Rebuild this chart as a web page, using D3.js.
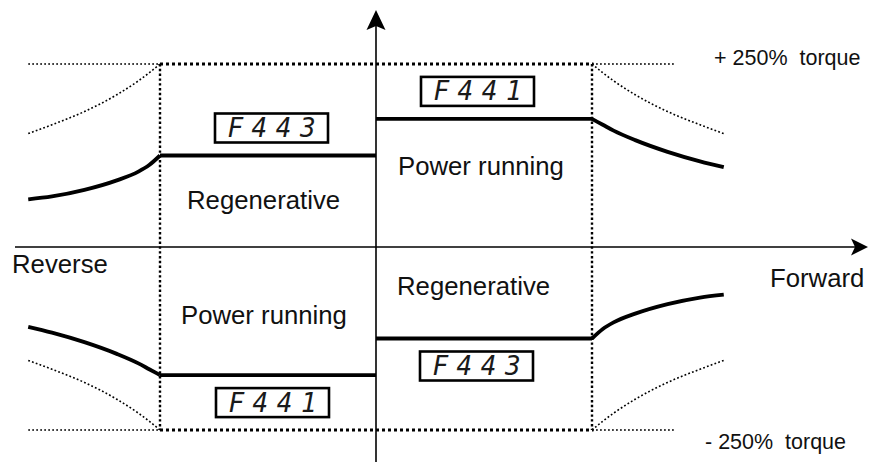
<!DOCTYPE html>
<html>
<head>
<meta charset="utf-8">
<script src="https://d3js.org/d3.v7.min.js"></script>
<style>
    body { margin: 0; background: #ffffff; }
    #chart .font { font-family: "Liberation Sans", Arial, sans-serif; fill: #111111; }
    #chart .axis { stroke: #000000; stroke-width: 1.6; fill: none; }
    #chart .arrow { fill: #000000; stroke: none; }
    #chart .frame-h { stroke: #000000; stroke-width: 3; stroke-dasharray: 3,3; fill: none; }
    #chart .frame-v { stroke: #000000; stroke-width: 2.4; stroke-dasharray: 2.4,2.4; fill: none; }
    #chart .limit { stroke: #000000; stroke-width: 1.6; stroke-dasharray: 1.8,2.2; fill: none; }
    #chart .torque { stroke: #000000; stroke-width: 3.8; fill: none; stroke-linejoin: miter; }
    #chart .box rect { fill: #ffffff; stroke: #000000; stroke-width: 2.6; }
    #chart .box text {
        font-family: "DejaVu Sans Mono", monospace;
        font-style: italic;
        font-size: 26px;
        letter-spacing: 8.5px;
        fill: #1a1a1a;
    }
</style>
</head>
<body>
<script>
    const WIDTH = 874;
    const HEIGHT = 462;

    // speed in per-unit of base speed, torque in %
    const SPEED_PU = [1.0, 1.05, 1.1, 1.2, 1.35, 1.5, 1.61];
    const LIMIT_PCT = [250, 238, 227, 208, 185, 167, 155];
    const POWER_PCT = [175, 167, 159, 146, 130, 117, 109];
    const REGEN_PCT = [125, 112, 103, 91, 78, 69, 65];
    const LIMIT_LINE_END = [-1.61, 1.38];
    const TORQUE_MAX = 250;

    // quadrants: forward/+T, reverse/+T, reverse/-T, forward/-T
    const Q_SPEED_SIGN = [1, -1, -1, 1];
    const Q_TORQUE_SIGN = [1, 1, -1, -1];
    const Q_MODE = ["Power running", "Regenerative", "Power running", "Regenerative"];
    const Q_PARAM = ["F441", "F443", "F441", "F443"];

    const AXIS_LABELS = ["Reverse", "Forward"];

    var x = d3.scaleLinear().domain([-1, 1]).range([160, 592]);
    var y = d3.scaleLinear().domain([-250, 250]).range([430, 64]);

    var svg = d3.select("body").append("svg")
        .attr("id", "chart")
        .attr("width", WIDTH)
        .attr("height", HEIGHT);

    function series(q) {
        var vals = Q_MODE[q] === "Power running" ? POWER_PCT : REGEN_PCT;
        return SPEED_PU.map(function(s, i) {
            return [s * Q_SPEED_SIGN[q], vals[i] * Q_TORQUE_SIGN[q]];
        });
    }

    // points are ordered by |speed|, so sort them for the monotone curve
    function byX(pts) {
        return pts.slice().sort(function(a, b) { return a[0] - b[0]; });
    }

    var line = d3.line()
        .x(function(d) { return x(d[0]); })
        .y(function(d) { return y(d[1]); })
        .curve(d3.curveMonotoneX);

    // ---- thin dotted +-250% limit lines and constant power curves
    var limitG = svg.append("g");
    [1, -1].forEach(function(sign) {
        limitG.append("line").attr("class", "limit")
            .attr("x1", x(LIMIT_LINE_END[0])).attr("x2", x(-1))
            .attr("y1", y(sign * TORQUE_MAX)).attr("y2", y(sign * TORQUE_MAX));
        limitG.append("line").attr("class", "limit")
            .attr("x1", x(1)).attr("x2", x(LIMIT_LINE_END[1]))
            .attr("y1", y(sign * TORQUE_MAX)).attr("y2", y(sign * TORQUE_MAX));
    });
    for (var q = 0; q < 4; q++) {
        var pts = SPEED_PU.map(function(s, i) {
            return [s * Q_SPEED_SIGN[q], LIMIT_PCT[i] * Q_TORQUE_SIGN[q]];
        });
        limitG.append("path").attr("class", "limit").attr("d", line(byX(pts)));
    }

    // ---- dotted frame at base speed / 250 %
    var frame = svg.append("g");
    [TORQUE_MAX, -TORQUE_MAX].forEach(function(t) {
        frame.append("line").attr("class", "frame-h")
            .attr("x1", x(-1)).attr("x2", x(1) + 1.5)
            .attr("y1", y(t)).attr("y2", y(t));
    });
    [-1, 1].forEach(function(s) {
        frame.append("line").attr("class", "frame-v")
            .attr("x1", x(s)).attr("x2", x(s))
            .attr("y1", y(TORQUE_MAX)).attr("y2", y(-TORQUE_MAX));
    });

    // ---- torque limit lines (flat part from zero speed + curve)
    var torqueG = svg.append("g");
    for (var q = 0; q < 4; q++) {
        var pts = byX(series(q));
        var corner = Q_SPEED_SIGN[q] > 0 ? pts[0] : pts[pts.length - 1];
        var flat = [[0, corner[1]], corner];
        torqueG.append("path").attr("class", "torque")
            .attr("d", d3.line().x(function(d) { return x(d[0]); })
                .y(function(d) { return y(d[1]); })(flat));
        torqueG.append("path").attr("class", "torque").attr("d", line(pts));
    }

    // ---- axes with arrows
    var x0 = x(0), y0 = y(0);
    svg.append("line").attr("class", "axis")
        .attr("x1", 15).attr("x2", WIDTH - 12)
        .attr("y1", y0).attr("y2", y0);
    svg.append("line").attr("class", "axis")
        .attr("x1", x0).attr("x2", x0)
        .attr("y1", HEIGHT).attr("y2", 16);
    var tipX = WIDTH - 6;
    svg.append("path").attr("class", "arrow")
        .attr("d", "M" + tipX + "," + y0 + "L" + (tipX - 17) + "," + (y0 - 8.5) +
            "L" + (tipX - 13) + "," + y0 + "L" + (tipX - 17) + "," + (y0 + 8.5) + "Z");
    var tipY = 10;
    svg.append("path").attr("class", "arrow")
        .attr("d", "M" + x0 + "," + tipY + "L" + (x0 - 9.5) + "," + (tipY + 20) +
            "L" + x0 + "," + (tipY + 16) + "L" + (x0 + 9.5) + "," + (tipY + 20) + "Z");

    // ---- text labels
    function addLabel(px, py, txt, size, sx) {
        return svg.append("text")
            .attr("class", "font")
            .attr("transform", "translate(" + px + "," + py + ") scale(" + sx + ",1)")
            .style("font-size", size + "px")
            .style("white-space", "pre")
            .text(txt);
    }

    // layout of the mode labels (left x, baseline) in pixels
    var MODE_POS = [[398, 175], [187, 209], [181, 324], [397, 295]];
    for (var q = 0; q < 4; q++) {
        addLabel(MODE_POS[q][0], MODE_POS[q][1], Q_MODE[q], 25, 1.03);
    }
    addLabel(12, 273, AXIS_LABELS[0], 25, 1.03);
    addLabel(770, 287, AXIS_LABELS[1], 25, 1.03);
    addLabel(714, y(TORQUE_MAX) + 1, "+ " + TORQUE_MAX + "%  torque", 21.5, 1.0);
    addLabel(705, y(-TORQUE_MAX) + 19, "- " + TORQUE_MAX + "%  torque", 21.5, 1.0);

    // ---- parameter display boxes
    var BOX_W = 113, BOX_H = 29;
    var BOX_CX = [477.5, 271.5, 272.5, 476.5];
    for (var q = 0; q < 4; q++) {
        var ty = y(series(q)[0][1]);
        var boxTop = Q_TORQUE_SIGN[q] > 0 ? ty - 13 - BOX_H : ty + 13;
        var g = svg.append("g").attr("class", "box");
        g.append("rect")
            .attr("x", BOX_CX[q] - BOX_W / 2).attr("y", boxTop)
            .attr("width", BOX_W).attr("height", BOX_H);
        g.append("text")
            .attr("x", BOX_CX[q] + 4.25)
            .attr("y", boxTop + 23.5)
            .attr("text-anchor", "middle")
            .text(Q_PARAM[q]);
    }
</script>
</body>
</html>
